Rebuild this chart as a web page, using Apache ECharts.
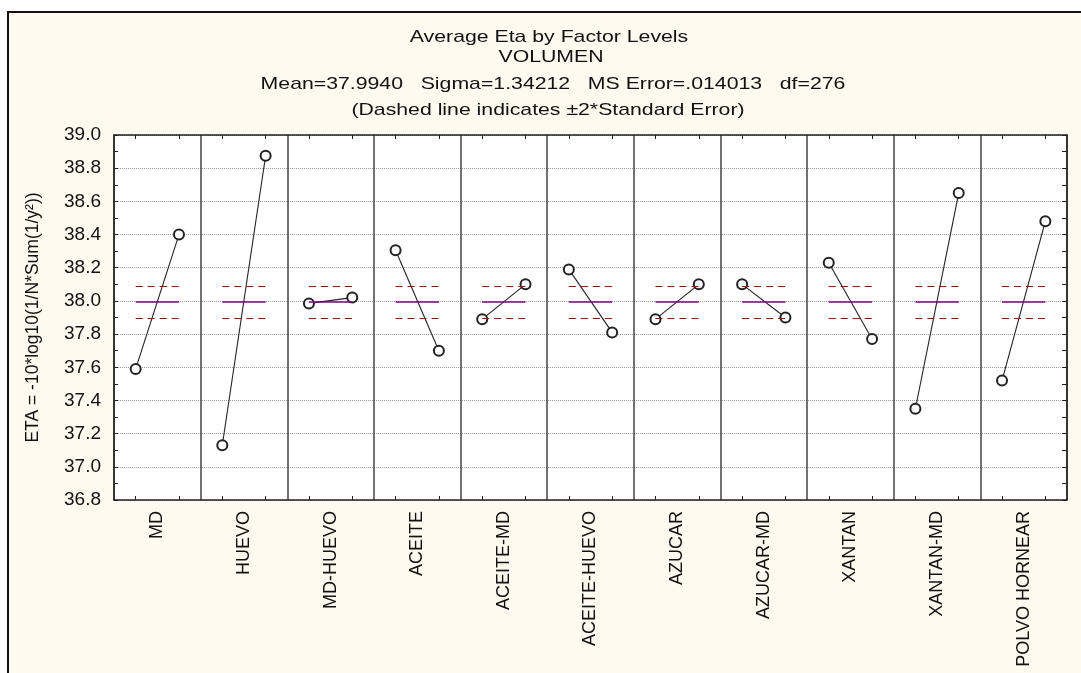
<!DOCTYPE html>
<html>
<head>
<meta charset="utf-8">
<title>Average Eta by Factor Levels</title>
<script src="https://cdn.jsdelivr.net/npm/echarts@6/dist/echarts.min.js"></script>
<style>
	html, body { margin: 0; padding: 0; background: #fff; }
	#chart { width: 1081px; height: 673px; }
</style>
</head>
<body>
<div id="chart"></div>
<script>
// factor names, one panel each
var factors = ['MD', 'HUEVO', 'MD-HUEVO', 'ACEITE', 'ACEITE-MD', 'ACEITE-HUEVO',
	'AZUCAR', 'AZUCAR-MD', 'XANTAN', 'XANTAN-MD', 'POLVO HORNEAR'];
// average eta at level 1 and level 2 of each factor
var level1 = [37.59, 37.13, 37.985, 38.305, 37.89, 38.19, 37.89, 38.10, 38.23, 37.35, 37.52];
var level2 = [38.40, 38.875, 38.02, 37.70, 38.10, 37.81, 38.10, 37.90, 37.77, 38.65, 38.48];
// grand mean and the +-2*SE band
var grandMean = 37.994;
var bandLow = 37.897;
var bandHigh = 38.091;
// y axis
var yMin = 36.8, yMax = 39.0, yStep = 0.2;

var titleLines = [
	'Average Eta by Factor Levels',
	'VOLUMEN',
	'Mean=37.9940   Sigma=1.34212   MS Error=.014013   df=276',
	'(Dashed line indicates \u00b12*Standard Error)'
];

var Chart = {
	init: function(){
		var slots = [];
		for(var i = 0; i < factors.length; i++){
			slots.push(factors[i] + ' (1)');
			slots.push(factors[i] + ' (2)');
		}
		this.render(slots);
	},
	bandStyle: function(){
		return {color: '#990000', width: 1.2, type: [7, 5], opacity: 1};
	},
	meanStyle: function(){
		return {color: '#800080', width: 1.6, type: 'solid', opacity: 1};
	},
	segment: function(a, b, y, style){
		return [{coord: [a, y], lineStyle: style}, {coord: [b, y], lineStyle: style}];
	},
	buildSeries: function(){
		var series = [];
		for(var i = 0; i < factors.length; i++){
			var a = 2 * i, b = 2 * i + 1;
			series.push({
				name: factors[i],
				type: 'line',
				xAxisIndex: 0,
				yAxisIndex: 0,
				data: [[a, level1[i]], [b, level2[i]]],
				symbol: 'emptyCircle',
				symbolSize: 10,
				itemStyle: {color: '#222', borderColor: '#222', borderWidth: 1},
				lineStyle: {color: '#222', width: 1.1},
				z: 3,
				markLine: {
					silent: true,
					symbol: ['none', 'none'],
					label: {show: false},
					animation: false,
					lineStyle: this.bandStyle(),
					data: [
						this.segment(a, b, bandHigh, this.bandStyle()),
						this.segment(a, b, bandLow, this.bandStyle()),
						this.segment(a, b, grandMean, this.meanStyle())
					]
				}
			});
		}
		return series;
	},
	render: function(slots){
		var titleY = [37, 57, 84, 110];
		var titleX = [549, 551, 553, 548];
		var graphics = [{
			type: 'rect',
			z: -10,
			shape: {x: 8, y: 12, width: 1100, height: 700},
			style: {fill: '#fffaf0', stroke: '#111', lineWidth: 2}
		}];
		for(var t = 0; t < titleLines.length; t++){
			graphics.push({
				type: 'text',
				x: titleX[t],
				y: titleY[t],
				scaleX: 1.25,
				style: {
					text: titleLines[t],
					fontSize: 17,
					fontFamily: '"Liberation Sans", Arial, sans-serif',
					fill: '#111',
					align: 'center',
					verticalAlign: 'middle'
				}
			});
		}

		var option = {
			backgroundColor: '#fff',
			animation: false,
			textStyle: {fontFamily: '"Liberation Sans", Arial, sans-serif'},
			graphic: graphics,
			grid: {
				left: 114, right: 14, top: 135, bottom: 173,
				show: true, backgroundColor: '#fff', borderWidth: 0,
				containLabel: false
			},
			xAxis: [{
				type: 'category',
				data: slots,
				position: 'bottom',
				boundaryGap: true,
				axisLine: {show: true, lineStyle: {color: '#222', width: 1.5}},
				axisTick: {show: true, inside: true, alignWithLabel: true, interval: 0, length: 4,
					lineStyle: {color: '#222'}},
				axisLabel: {show: false},
				splitLine: {show: true, interval: 1, lineStyle: {color: '#444', width: 1.5}}
			}, {
				type: 'category',
				data: factors,
				position: 'bottom',
				boundaryGap: true,
				axisLine: {show: false},
				axisTick: {show: false},
				axisLabel: {show: true, interval: 0, rotate: 90, margin: 11,
					fontSize: 18, color: '#111'},
				splitLine: {show: false}
			}, {
				type: 'category',
				data: slots,
				position: 'top',
				boundaryGap: true,
				axisLine: {show: true, lineStyle: {color: '#222', width: 1.5}},
				axisTick: {show: true, inside: true, alignWithLabel: true, interval: 0, length: 4,
					lineStyle: {color: '#222'}},
				axisLabel: {show: false},
				splitLine: {show: false}
			}],
			yAxis: [{
				type: 'value',
				min: yMin,
				max: yMax,
				interval: yStep,
				position: 'left',
				name: 'ETA = -10*log10(1/N*Sum(1/y\u00b2))',
				nameLocation: 'middle',
				nameGap: 72,
				nameTextStyle: {fontSize: 17.5, color: '#111'},
				axisLine: {show: true, lineStyle: {color: '#222', width: 1.5}},
				axisTick: {show: true, inside: true, length: 4, lineStyle: {color: '#222'}},
				minorTick: {show: true, splitNumber: 2, length: 4, lineStyle: {color: '#222'}},
				axisLabel: {
					margin: 13, fontSize: 19, color: '#111',
					formatter: function(v){ return v.toFixed(1); }
				},
				splitLine: {show: true, lineStyle: {color: '#9a9a9a', type: 'dotted', width: 1}}
			}, {
				type: 'value',
				min: yMin,
				max: yMax,
				interval: yStep,
				position: 'right',
				axisLine: {show: true, lineStyle: {color: '#222', width: 1.5}},
				axisTick: {show: true, inside: true, length: 5, lineStyle: {color: '#222'}},
				minorTick: {show: true, splitNumber: 2, length: 5, lineStyle: {color: '#222'}},
				axisLabel: {show: false},
				splitLine: {show: false}
			}],
			series: this.buildSeries()
		};

		var myChart = echarts.init(document.getElementById('chart'));
		myChart.setOption(option);
	}
};

Chart.init();
</script>
</body>
</html>
